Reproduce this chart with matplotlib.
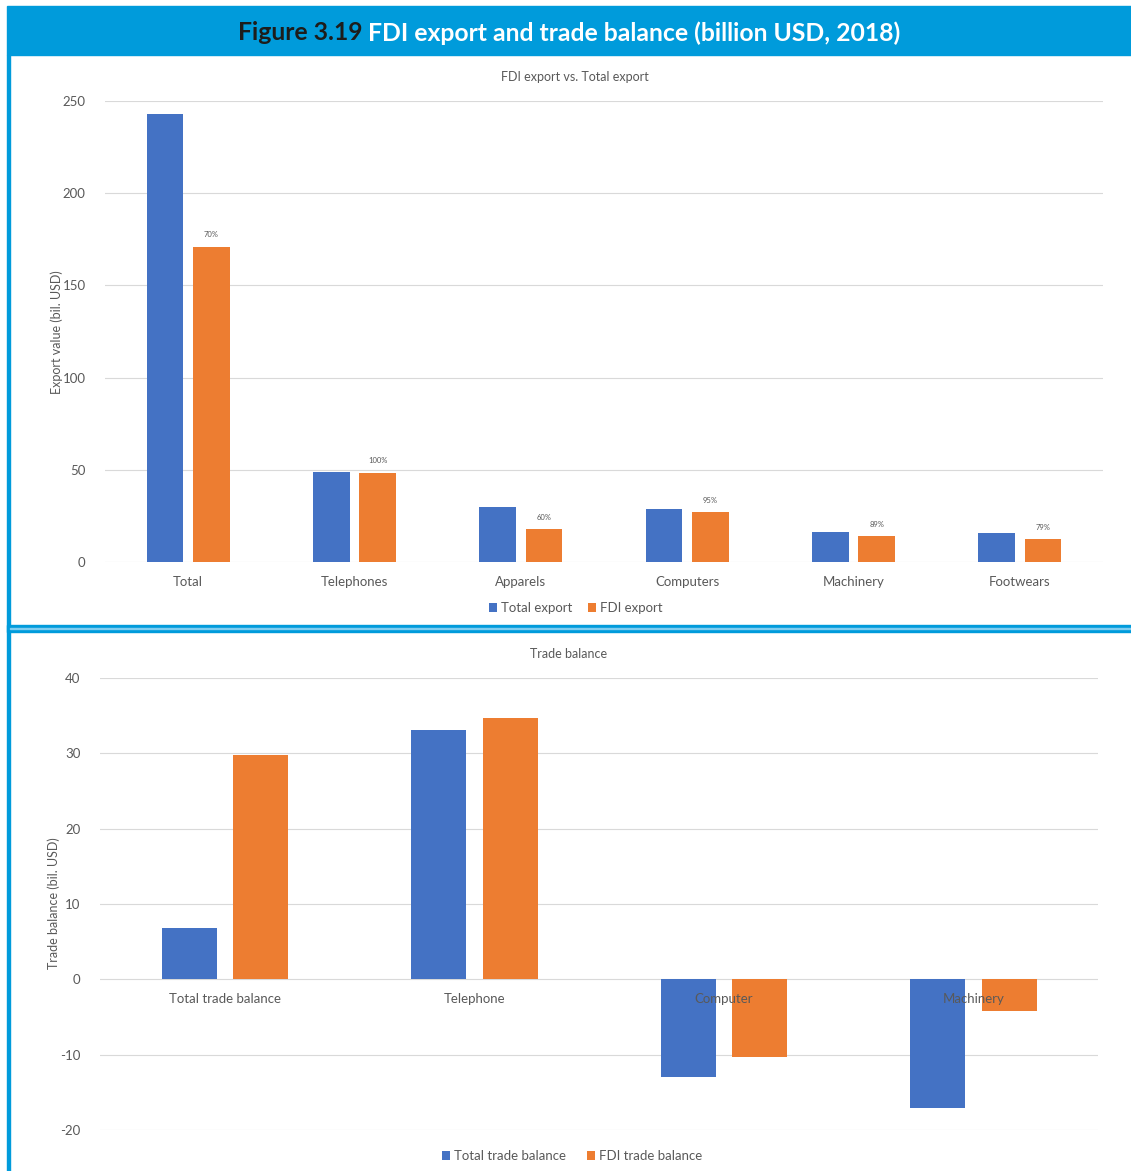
import numpy as np
import matplotlib.pyplot as plt
from matplotlib.patches import Rectangle

# Exportwerte (Mrd. USD, 2018)
export_cats = ["Total", "Telephones", "Apparels", "Computers", "Machinery", "Footwears"]
total_export = [243, 49, 29.8, 28.7, 16.3, 15.7]
fdi_export = [171, 48.5, 17.9, 27.2, 14.2, 12.5]
fdi_share = ["70%", "100%", "60%", "95%", "89%", "79%"]

# Handelsbilanz (Mrd. USD, 2018)
balance_cats = ["Total trade balance", "Telephone", "Computer", "Machinery"]
total_balance = [6.8, 33.1, -12.9, -17.1]
fdi_balance = [29.8, 34.7, -10.3, -4.2]

W, H = 1131, 1171
BLUE = "#4472C4"
ORANGE = "#ED7D31"
FRAME = "#009BDB"
GREY = "#595959"

plt.rcParams['font.family'] = ['Lato', 'DejaVu Sans']
plt.rcParams['axes.unicode_minus'] = False

fig = plt.figure(figsize=(W / 100, H / 100), dpi=100)


def px_box(x0, y0, x1, y1):
    # Pixelkoordinaten (oben links) -> Figure-Koordinaten
    return [x0 / W, 1 - y1 / H, (x1 - x0) / W, (y1 - y0) / H]


# Rahmen und Kopfzeile
fig.patches.append(Rectangle((7 / W, 1 - 55 / H), (W - 7) / W, 49 / H,
                             transform=fig.transFigure, color=FRAME, zorder=0))
fig.patches.append(Rectangle((7 / W, 0), 3 / W, 1 - 55 / H,
                             transform=fig.transFigure, color=FRAME, zorder=0))
fig.patches.append(Rectangle((7 / W, 1 - 632 / H), (W - 7) / W, 7 / H,
                             transform=fig.transFigure, color=FRAME, zorder=0))
fig.patches.append(Rectangle((10 / W, 1 - 629 / H), (W - 10) / W, 1 / H,
                             transform=fig.transFigure, color="#7fcdf0", zorder=1))

# Titel in zwei Farben
title_font = dict(fontweight='bold', fontsize=17.8)
t1 = fig.text(0, 1 - 33 / H, "Figure 3.19 ", color="#1d1d1b", va='center', **title_font)
t2 = fig.text(0, 1 - 33 / H, "FDI export and trade balance (billion USD, 2018)", color="white",
              va='center', **title_font)
fig.canvas.draw()
r = fig.canvas.get_renderer()
w1 = t1.get_window_extent(r).width
w2 = t2.get_window_extent(r).width
x_start = (W + 7) / 2 - (w1 + w2) / 2
t1.set_x(x_start / W)
t2.set_x((x_start + w1) / W)


def style_axes(ax):
    for s in ax.spines.values():
        s.set_visible(False)
    ax.grid(axis='y', color="#d9d9d9", linewidth=0.8)
    ax.set_axisbelow(True)
    ax.tick_params(length=0, colors=GREY, labelsize=9.5)


# Oberes Diagramm: FDI-Export vs. Gesamtexport
ax1 = fig.add_axes(px_box(105, 101, 1103, 562))
x = np.arange(len(export_cats))
ax1.bar(x - 0.14, total_export, width=0.22, color=BLUE, label="Total export")
bars = ax1.bar(x + 0.14, fdi_export, width=0.22, color=ORANGE, label="FDI export")
for b, lab in zip(bars, fdi_share):
    ax1.text(b.get_x() + b.get_width() / 2, b.get_height() + 4.5, lab,
             ha='center', va='bottom', fontsize=5.5, color=GREY)
ax1.set_xlim(-0.5, 5.5)
ax1.set_ylim(0, 250)
ax1.set_yticks(range(0, 251, 50))
ax1.set_xticks(x)
ax1.set_xticklabels(export_cats)
style_axes(ax1)
ax1.tick_params(axis='x', pad=10)
ax1.tick_params(axis='y', pad=14)
fig.text(575 / W, 1 - 77 / H, "FDI export vs. Total export", ha='center', va='center',
         fontsize=9, color=GREY)
fig.text(57 / W, 1 - 332 / H, "Export value (bil. USD)", rotation=90, ha='center', va='center',
         fontsize=9, color=GREY)
ax1.legend(loc='center', bbox_to_anchor=(576 / W, 1 - 608 / H), bbox_transform=fig.transFigure,
           ncol=2, frameon=False, fontsize=9.5, handlelength=0.6, handleheight=0.6,
           handletextpad=0.3, columnspacing=1.2, labelcolor=GREY)

# Unteres Diagramm: Handelsbilanz
ax2 = fig.add_axes(px_box(100, 678, 1098, 1130))
x2 = np.arange(len(balance_cats))
ax2.bar(x2 - 0.142, total_balance, width=0.22, color=BLUE, label="Total trade balance")
ax2.bar(x2 + 0.144, fdi_balance, width=0.22, color=ORANGE, label="FDI trade balance")
ax2.set_xlim(-0.5, 3.5)
ax2.set_ylim(-20, 40)
ax2.set_yticks(range(-20, 41, 10))
ax2.set_xticks([])
style_axes(ax2)
ax2.tick_params(axis='y', pad=14)
# Kategorienamen an der Nulllinie, über den Balken
for xi, name in zip(x2, balance_cats):
    ax2.annotate(name, (xi, 0), xytext=(0, -14), textcoords='offset points',
                 ha='center', va='center', fontsize=9.5, color=GREY, zorder=5)
fig.text(569 / W, 1 - 654 / H, "Trade balance", ha='center', va='center',
         fontsize=9, color=GREY)
fig.text(54 / W, 1 - 903 / H, "Trade balance (bil. USD)", rotation=90, ha='center', va='center',
         fontsize=9, color=GREY)
ax2.legend(loc='center', bbox_to_anchor=(572 / W, 1 - 1156 / H), bbox_transform=fig.transFigure,
           ncol=2, frameon=False, fontsize=9.5, handlelength=0.6, handleheight=0.6,
           handletextpad=0.3, columnspacing=1.6, labelcolor=GREY)

fig.savefig("out.png", dpi=100)
